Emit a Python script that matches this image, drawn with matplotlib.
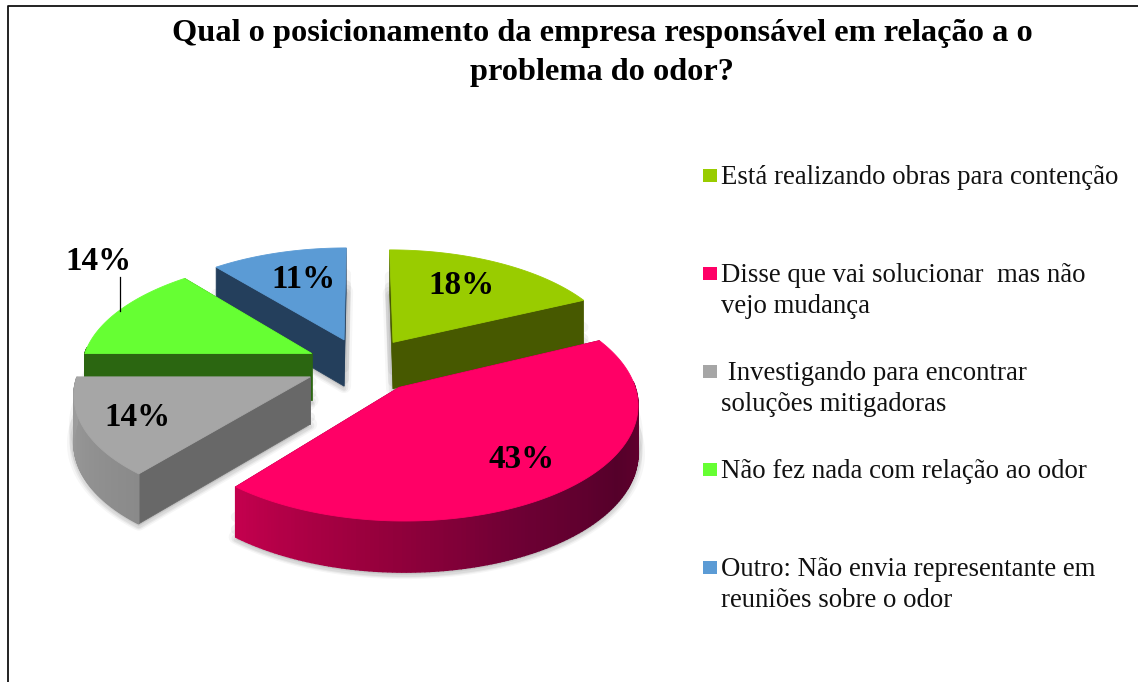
import numpy as np
import matplotlib
matplotlib.use("Agg")
import matplotlib.pyplot as plt
from matplotlib.colors import LinearSegmentedColormap
from matplotlib.patches import Polygon, Rectangle

plt.rcParams['font.family'] = ['Liberation Serif', 'DejaVu Serif']

######################################################################
#data
title = "Qual o posicionamento da empresa responsável em relação a o\nproblema do odor?"
labels = ["Está realizando obras para contenção",
          "Disse que vai solucionar  mas não\nvejo mudança",
          " Investigando para encontrar\nsoluções mitigadoras",
          "Não fez nada com relação ao odor",
          "Outro: Não envia representante em\nreuniões sobre o odor"]
values = [18, 43, 14, 14, 11]
pct_labels = ["18%", "43%", "14%", "14%", "11%"]

top_colors = ["#99CC00", "#FF0066", "#A6A6A6", "#66FF33", "#5B9BD5"]
side_colors = ["#475900", "#5A0028", "#686868", "#2B6611", "#243F5C"]

######################################################################
#3d pie settings (pixels of the original picture)
cx, cy = 363, 365
Rx, Ry = 230, 110
persp = 0.13
explode = 0.25
depth = 47

def project(X, Y):
    w = 1 + persp * Y
    return cx + Rx * X / w, cy - Ry * Y / w

def thick(Y):
    return depth / np.sqrt(1 + persp * Y)

def wedge_points(a0, a1):
    mid = (a0 + a1) / 2
    ox, oy = explode * np.sin(mid), explode * np.cos(mid)
    t = np.linspace(a0, a1, 160)
    X = np.r_[ox, ox + np.sin(t)]
    Y = np.r_[oy, oy + np.cos(t)]
    return X, Y

fig = plt.figure(figsize=(11.38, 6.82), dpi=100)
ax = fig.add_axes([0, 0, 1, 1])
ax.set_xlim(0, 1138)
ax.set_ylim(682, 0)
ax.axis("off")

#outer frame
ax.plot([8, 8, 1138], [682, 5.5, 5.5], color="#111111", lw=1.3, zorder=1)

rim_maps = {
    0: LinearSegmentedColormap.from_list("a", ["#475900", "#475900"]),
    1: LinearSegmentedColormap.from_list("b", ["#6A0030", "#55002A", "#6E0034", "#99003D", "#C4004E"]),
    2: LinearSegmentedColormap.from_list("c", ["#8A8A8A", "#9C9C9C"]),
    3: LinearSegmentedColormap.from_list("d", ["#2B6611", "#2B6611"]),
    4: LinearSegmentedColormap.from_list("e", ["#243F5C", "#243F5C"]),
}

edges = np.r_[0, np.cumsum(values)] / np.sum(values) * 2 * np.pi

#drawing order: back slices first
order = [4, 0, 3, 1, 2]
z = 2
for i in order:
    a0, a1 = edges[i], edges[i + 1]
    X, Y = wedge_points(a0, a1)
    px, py = project(X, Y)
    d = thick(Y)

    #soft shadow
    for frac, lw, al in [(0.6, 7, 0.04), (0.85, 7, 0.05), (1.0, 10, 0.035), (1.03, 6, 0.05), (1.05, 3, 0.06)]:
        ax.add_patch(Polygon(np.c_[px, py + d * frac], closed=True, fc=(0, 0, 0, al),
                             ec=(0, 0, 0, al), lw=lw, joinstyle="round", zorder=z))
    z += 1

    #cut faces
    for k in [1, len(X) - 1]:
        quad = [(px[0], py[0]), (px[k], py[k]), (px[k], py[k] + d[k]), (px[0], py[0] + d[0])]
        ax.add_patch(Polygon(quad, closed=True, fc=side_colors[i], ec=side_colors[i], lw=0.5, zorder=z))
    z += 1

    #rim, only the part that looks to the front
    for k in range(1, len(X) - 1):
        ang = a0 + (a1 - a0) * (k - 1) / (len(X) - 2)
        if np.cos(ang) >= 0.05:
            continue
        c = rim_maps[i]((ang - np.pi / 2) / (edges[2] - np.pi / 2) if i == 1 else (ang - a0) / (a1 - a0))
        quad = [(px[k], py[k]), (px[k + 1], py[k + 1]),
                (px[k + 1], py[k + 1] + d[k + 1]), (px[k], py[k] + d[k])]
        ax.add_patch(Polygon(quad, closed=True, fc=c, ec=c, lw=1.0, zorder=z))
    z += 1

    #top
    ax.add_patch(Polygon(np.c_[px, py], closed=True, fc=top_colors[i], ec=top_colors[i], lw=0.6, zorder=z))
    z += 1

z += 1
#percent labels
pct_pos = [(461, 286), (522, 460), (137, 417), (98, 262), (303, 280)]
for s, (x, y) in zip(pct_labels, pct_pos):
    ax.text(x, y, s, fontsize=23.8, fontweight="bold", ha="center", va="center", color="black", zorder=z)
ax.plot([120, 120], [277, 311], color="black", lw=0.9, zorder=z)

#title
ax.text(602, 53, title, fontsize=23.3, fontweight="bold", ha="center", va="center",
        linespacing=1.41, color="black", zorder=z)

#legend
legend_y = [175, 273, 371, 469, 567]
for lab, col, y in zip(labels, top_colors, legend_y):
    ax.add_patch(Rectangle((703, y - 6.5), 14, 13, fc=col, ec="none", zorder=z))
    ax.text(721, y - 9.5, lab, fontsize=19.3, ha="left", va="top", linespacing=1.31,
            color="#111111", zorder=z)

fig.savefig("out.png", dpi=100)
